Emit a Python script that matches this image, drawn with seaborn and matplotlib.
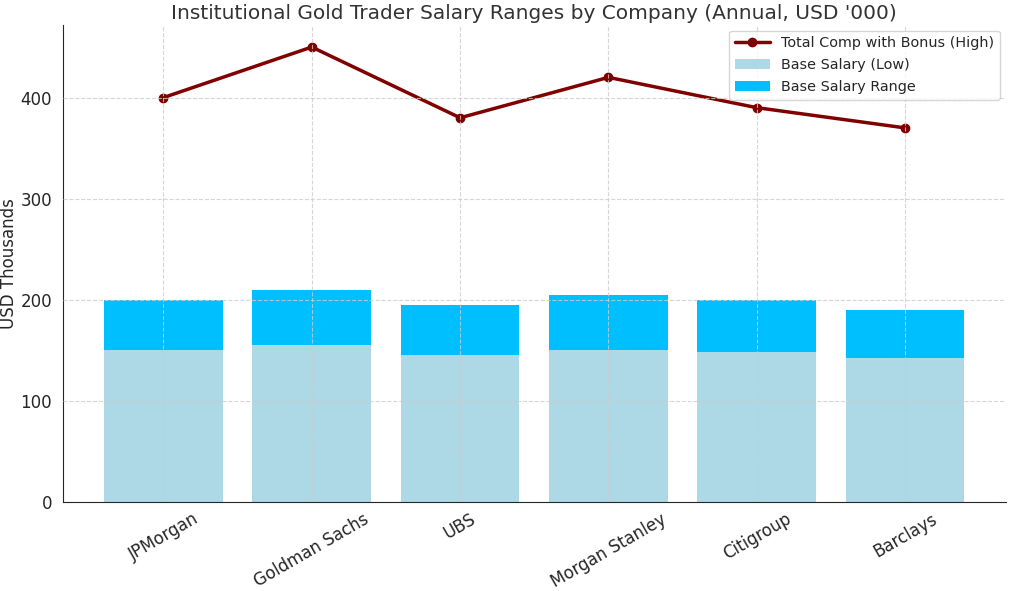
import numpy as np
import matplotlib
matplotlib.use("Agg")
import matplotlib.pyplot as plt
import seaborn as sns

companies = ["JPMorgan", "Goldman Sachs", "UBS", "Morgan Stanley", "Citigroup", "Barclays"]
base_low = [150, 155, 145, 150, 148, 142]
base_high = [200, 210, 195, 205, 200, 190]
total_comp_high = [400, 450, 380, 420, 390, 370]

base_range = [h - l for h, l in zip(base_high, base_low)]

sns.set_style("white")
plt.rcParams['font.family'] = ['DejaVu Sans']

fig, ax = plt.subplots(figsize=(10.09, 5.91), dpi=100)

sns.barplot(x=companies, y=base_low, color="#ADD8E6", saturation=1, width=0.8,
            linewidth=0, label="Base Salary (Low)", ax=ax)
sns.barplot(x=companies, y=base_range, bottom=base_low, color="#00BFFF", saturation=1,
            width=0.8, linewidth=0, label="Base Salary Range", ax=ax)
ax.plot(np.arange(len(companies)), total_comp_high, color="#800000", marker="o",
        linewidth=2.5, markersize=6, label="Total Comp with Bonus (High)")

ax.set_xlim(-0.68, 5.68)
ax.set_ylim(0, 472)
ax.set_title("Institutional Gold Trader Salary Ranges by Company (Annual, USD '000)",
             fontsize=14.5, color="#333333", pad=4)
ax.set_ylabel("USD Thousands", fontsize=12, labelpad=2)
ax.set_xlabel("")
ax.set_yticks([0, 100, 200, 300, 400])
ax.tick_params(axis="both", labelsize=12, length=4)
ax.tick_params(axis="x", pad=2)
plt.setp(ax.get_xticklabels(), rotation=30)

ax.set_axisbelow(False)
ax.grid(True, linestyle="--", color="#cccccc", linewidth=0.8, alpha=0.8)
for s in ["top", "right"]:
    ax.spines[s].set_visible(False)

handles, labels = ax.get_legend_handles_labels()
order = [labels.index("Total Comp with Bonus (High)"),
         labels.index("Base Salary (Low)"),
         labels.index("Base Salary Range")]
ax.legend([handles[i] for i in order], [labels[i] for i in order],
          loc="upper right", fontsize=10.4, frameon=True, handlelength=2.4,
          labelspacing=0.55, borderaxespad=0.4)

fig.subplots_adjust(left=0.062, right=0.997, top=0.958, bottom=0.151)
fig.savefig("out.png", dpi=100)
